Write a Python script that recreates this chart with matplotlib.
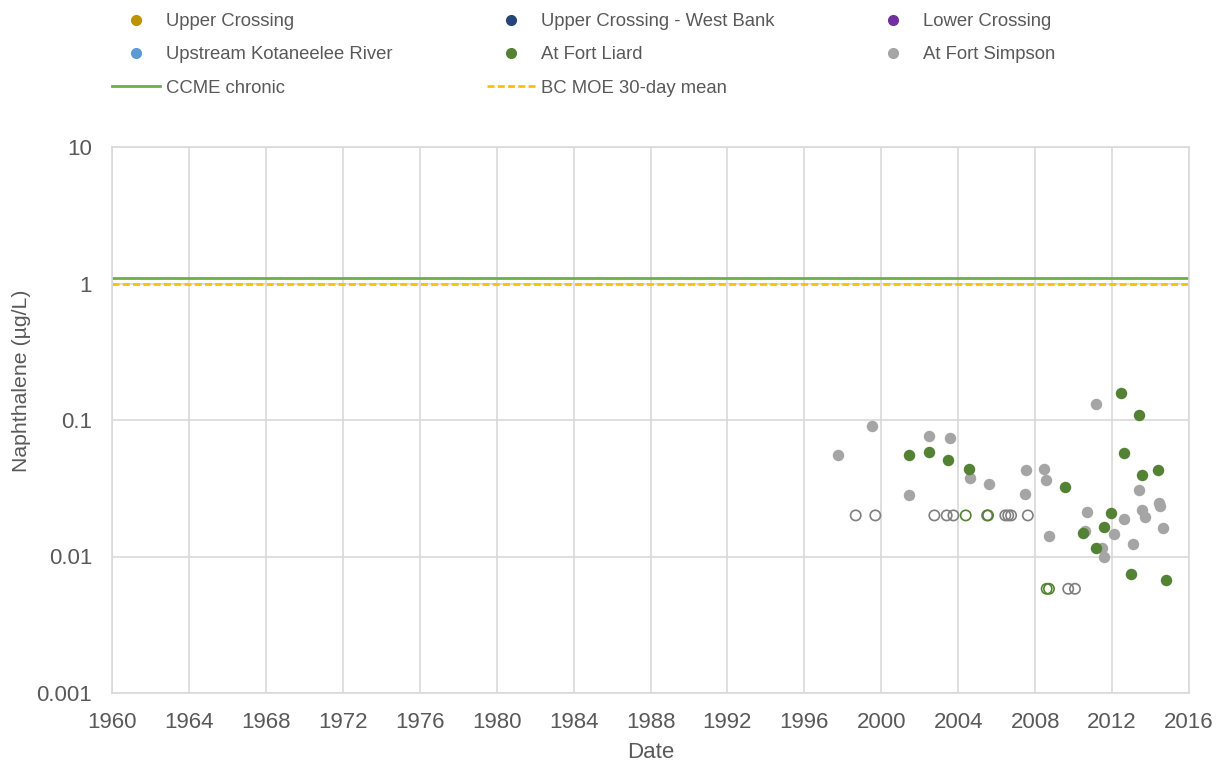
import matplotlib.pyplot as plt

plt.rcParams['font.family'] = ['Liberation Sans', 'DejaVu Sans']

# detected values (decimal year, ug/L)
simpson_x = [1997.77, 1999.50, 2001.46, 2002.46, 2003.56, 2004.63, 2005.62,
             2007.46, 2007.51, 2008.46, 2008.55, 2008.72, 2010.57, 2010.70,
             2011.15, 2011.48, 2011.58, 2012.08, 2012.62, 2013.09, 2013.38,
             2013.54, 2013.69, 2014.44, 2014.51, 2014.63]
simpson_y = [0.0554, 0.0904, 0.0282, 0.076, 0.0742, 0.0378, 0.0338,
             0.0289, 0.043, 0.0435, 0.0366, 0.0142, 0.0154, 0.0211,
             0.1318, 0.0116, 0.0099, 0.0146, 0.0188, 0.0124, 0.0309,
             0.022, 0.0194, 0.0245, 0.0236, 0.0162]

liard_x = [2001.42, 2002.48, 2003.47, 2004.56, 2009.55, 2010.50, 2011.15,
           2011.58, 2011.94, 2012.48, 2012.62, 2013.00, 2013.40, 2013.54,
           2014.40, 2014.82]
liard_y = [0.0551, 0.0586, 0.0509, 0.0435, 0.0321, 0.0149, 0.0116,
           0.0165, 0.0209, 0.157, 0.0576, 0.0075, 0.109, 0.0398,
           0.043, 0.0067]

# below detection limit (open symbols)
simpson_nd_x = [1998.67, 1999.69, 2002.76, 2003.40, 2003.75, 2005.50,
                2006.45, 2006.60, 2006.75, 2007.62, 2009.72, 2010.07]
simpson_nd_y = [0.02, 0.02, 0.02, 0.02, 0.02, 0.02,
                0.02, 0.02, 0.02, 0.02, 0.0058, 0.0058]
liard_nd_x = [2004.39, 2005.55, 2008.60, 2008.72]
liard_nd_y = [0.02, 0.02, 0.0058, 0.0058]

ccme_chronic = 1.1
bc_moe_30day = 1.0

text_col = '#595959'
grid_col = '#d9d9d9'

fig = plt.figure(figsize=(12.22, 7.62), dpi=100)
ax = fig.add_axes([112 / 1222, 69 / 762, 1077 / 1222, 546 / 762])

ax.scatter(simpson_nd_x, simpson_nd_y, s=55, facecolors='none',
           edgecolors='#7f7f7f', linewidths=1.2, zorder=3)
ax.scatter(liard_nd_x, liard_nd_y, s=55, facecolors='none',
           edgecolors='#548235', linewidths=1.2, zorder=3)
ax.scatter(simpson_x, simpson_y, s=68, color='#a5a5a5', linewidths=0, zorder=4)
ax.scatter(liard_x, liard_y, s=68, color='#548235', linewidths=0, zorder=5)

ax.axhline(ccme_chronic, color='#70ad47', lw=2, zorder=2)
ax.axhline(bc_moe_30day, color='#ffc000', lw=2, ls=(0, (2.5, 1.2)), zorder=2)

ax.set_yscale('log')
ax.set_ylim(0.001, 10)
ax.set_xlim(1960, 2016)
ax.set_xticks(range(1960, 2017, 4))
ax.set_yticks([0.001, 0.01, 0.1, 1, 10])
ax.set_yticklabels(['0.001', '0.01', '0.1', '1', '10'])
ax.minorticks_off()
ax.tick_params(axis='both', length=0, labelsize=16, colors=text_col)
ax.tick_params(axis='y', pad=14.4)
ax.tick_params(axis='x', pad=14)
ax.grid(True, color=grid_col, lw=1.2)
ax.set_axisbelow(True)
for sp in ax.spines.values():
    sp.set_color(grid_col)
    sp.set_linewidth(1.2)

ax.set_xlabel('Date', fontsize=16, color=text_col)
ax.set_ylabel('Naphthalene (µg/L)', fontsize=15.3, color=text_col)
ax.xaxis.set_label_coords(0.5, -0.09)
ax.yaxis.set_label_coords(-0.0752, 0.571)

# legend, ordered so that it reads row by row
def dot(c):
    return plt.Line2D([], [], ls='none', marker='o', ms=7, color=c)

handles = [dot('#bf9000'), dot('#5b9bd5'),
           plt.Line2D([], [], color='#70ad47', lw=2),
           dot('#264478'), dot('#548235'),
           plt.Line2D([], [], color='#ffc000', lw=2, ls=(0, (2.5, 1.2))),
           dot('#7030a0'), dot('#a5a5a5')]
labels = ['Upper Crossing', 'Upstream Kotaneelee River', 'CCME chronic',
          'Upper Crossing - West Bank', 'At Fort Liard', 'BC MOE 30-day mean',
          'Lower Crossing', 'At Fort Simpson']
fig.legend(handles, labels, ncol=3, loc='upper left',
           bbox_to_anchor=(112 / 1222, 1 - 13 / 762), frameon=False,
           fontsize=13.3, labelcolor=text_col, handlelength=2.6,
           handletextpad=0.3, columnspacing=5.15, labelspacing=0.88,
           borderpad=0, borderaxespad=0)

fig.savefig('out.png', dpi=100)
